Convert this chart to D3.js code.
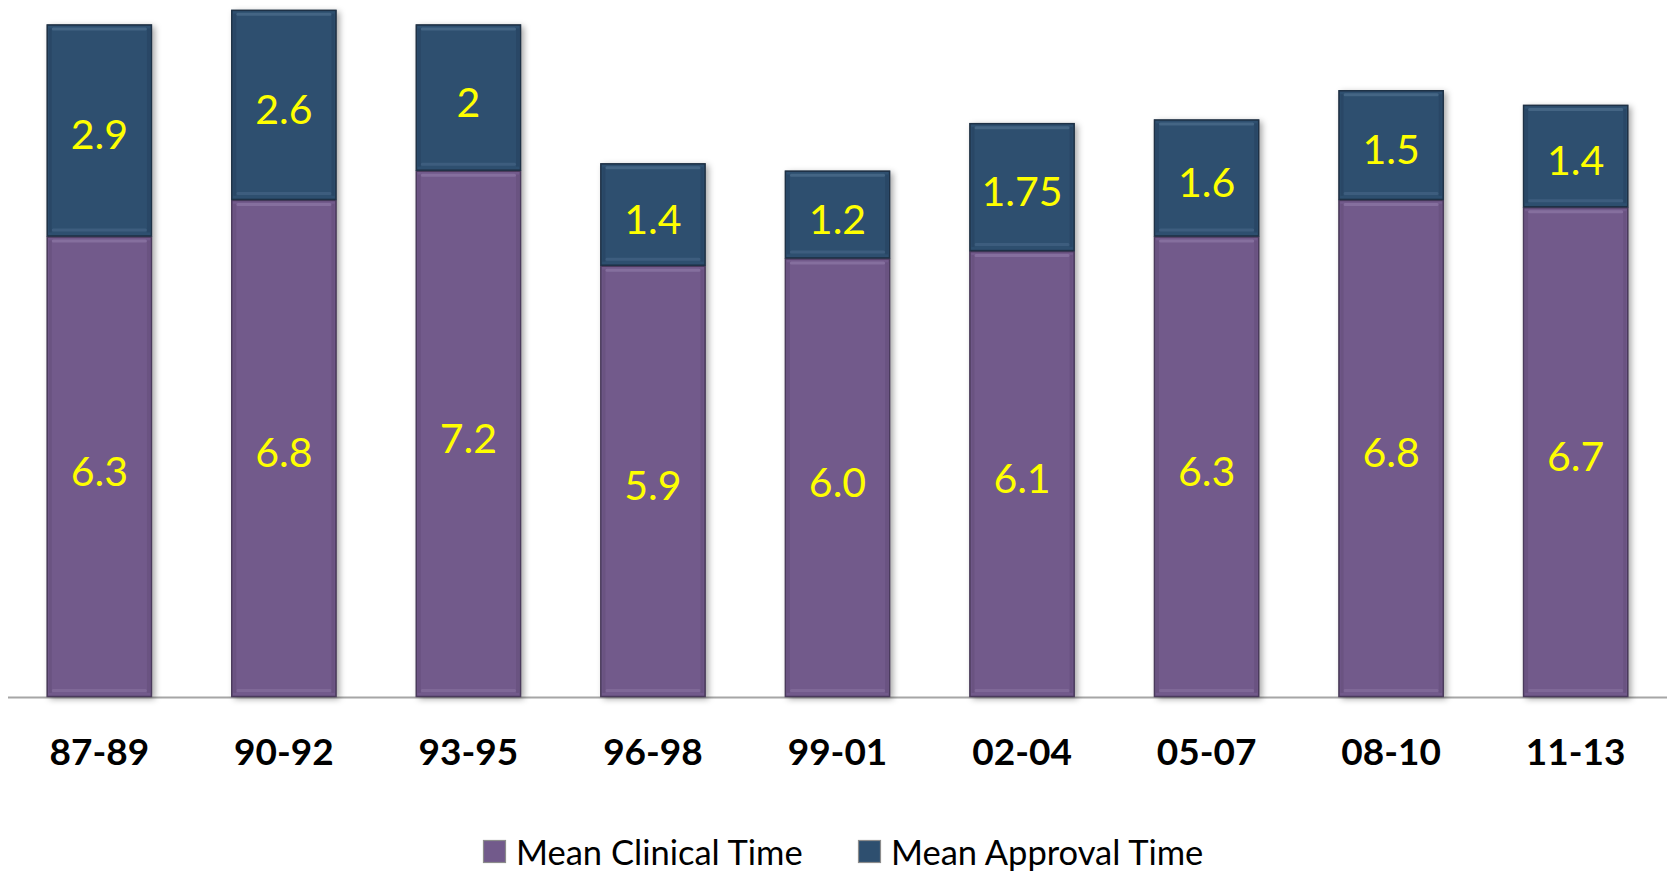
<!DOCTYPE html>
<html>
<head>
<meta charset="utf-8">
<script src="https://cdn.jsdelivr.net/npm/d3@7"></script>
<style>
  html, body { margin: 0; padding: 0; background: #ffffff; }
  svg { display: block; }
</style>
</head>
<body>
<svg id="chart" width="1667" height="871"></svg>
<script>
// Periods (years) and the two stacked components, in years
const periods = ["87-89", "90-92", "93-95", "96-98", "99-01", "02-04", "05-07", "08-10", "11-13"];
const clinicalTime = [6.3, 6.8, 7.2, 5.9, 6.0, 6.1, 6.3, 6.8, 6.7];
const approvalTime = [2.9, 2.6, 2, 1.4, 1.2, 1.75, 1.6, 1.5, 1.4];
const seriesNames = ["Mean Clinical Time", "Mean Approval Time"];

const W = 1667, H = 871;
const baseY = 697;

const colors = {
  clinical: { fill: "#725a8b", edge: "#4a3a5c", hi: "#8a74a3", lo: "#66507e" },
  approval: { fill: "#2e4f6f", edge: "#1e3146", hi: "#4a6a8a", lo: "#284562" }
};

const svg = d3.select("#chart");

const defs = svg.append("defs");
const shadow = defs.append("filter").attr("id", "barShadow")
  .attr("x", "-20%").attr("y", "-5%").attr("width", "150%").attr("height", "115%");
shadow.append("feDropShadow")
  .attr("dx", 3).attr("dy", 2).attr("stdDeviation", 3)
  .attr("flood-color", "#000").attr("flood-opacity", 0.35);

const x = d3.scaleBand()
  .domain(periods)
  .range([8, W])
  .paddingInner(0.43)
  .paddingOuter(0.21);

const y = d3.scaleLinear()
  .domain([0, 9.5])
  .range([baseY, baseY - 9.5 * 73.1]);

const rows = periods.map((p, i) => ({
  period: p,
  segments: [
    { key: "clinical", v0: 0, v1: clinicalTime[i], label: clinicalTime[i].toFixed(1) },
    { key: "approval", v0: clinicalTime[i], v1: clinicalTime[i] + approvalTime[i], label: String(approvalTime[i]) }
  ]
}));

// Axis baseline
svg.append("line")
  .attr("x1", 8).attr("x2", W)
  .attr("y1", baseY + 0.5).attr("y2", baseY + 0.5)
  .attr("stroke", "#a6a6a6").attr("stroke-width", 2);

const bars = svg.append("g").selectAll("g.bar")
  .data(rows).join("g")
  .attr("class", "bar")
  .attr("transform", d => `translate(${x(d.period)},0)`);

const bw = x.bandwidth();

// Whole-bar shadow
bars.append("rect")
  .attr("x", 0).attr("width", bw)
  .attr("y", d => y(d.segments[1].v1))
  .attr("height", d => y(0) - y(d.segments[1].v1))
  .attr("fill", "#666")
  .attr("filter", "url(#barShadow)");

const segs = bars.selectAll("g.seg")
  .data(d => d.segments).join("g").attr("class", "seg");

segs.append("rect")
  .attr("x", 0.5).attr("width", bw - 1)
  .attr("y", d => y(d.v1) + 0.5)
  .attr("height", d => y(d.v0) - y(d.v1) - 1)
  .attr("fill", d => colors[d.key].fill)
  .attr("stroke", d => colors[d.key].edge)
  .attr("stroke-width", 1.5);

// Soft bevel highlights near the top and bottom edges of each segment
segs.append("rect")
  .attr("x", 5).attr("width", bw - 10)
  .attr("y", d => y(d.v1) + 3)
  .attr("height", 3).attr("rx", 1.5)
  .attr("fill", d => colors[d.key].hi).attr("opacity", 0.8);
segs.append("rect")
  .attr("x", 5).attr("width", bw - 10)
  .attr("y", d => y(d.v0) - 8)
  .attr("height", 3).attr("rx", 1.5)
  .attr("fill", d => colors[d.key].hi).attr("opacity", 0.55);
segs.append("rect")
  .attr("x", 2).attr("width", 3)
  .attr("y", d => y(d.v1) + 4)
  .attr("height", d => Math.max(0, y(d.v0) - y(d.v1) - 8))
  .attr("fill", d => colors[d.key].lo).attr("opacity", 0.7);
segs.append("rect")
  .attr("x", bw - 5).attr("width", 3)
  .attr("y", d => y(d.v1) + 4)
  .attr("height", d => Math.max(0, y(d.v0) - y(d.v1) - 8))
  .attr("fill", d => colors[d.key].lo).attr("opacity", 0.7);

// Value labels
segs.append("text")
  .attr("x", bw / 2)
  .attr("y", d => (y(d.v0) + y(d.v1)) / 2 + 19)
  .attr("text-anchor", "middle")
  .attr("font-family", "Lato, 'Open Sans', sans-serif")
  .attr("font-size", 41)
  .attr("fill", "#ffff00")
  .text(d => d.label);

// Category axis labels
const xAxis = d3.axisBottom(x).tickSize(0).tickPadding(0);
const axisG = svg.append("g")
  .attr("transform", `translate(0,${baseY})`)
  .call(xAxis);
axisG.select(".domain").remove();
axisG.selectAll("text")
  .attr("y", 68)
  .attr("dy", 0)
  .attr("font-family", "Lato, 'Open Sans', sans-serif")
  .attr("font-weight", "bold")
  .attr("font-size", 37)
  .attr("fill", "#000");

// Legend
const legendItems = [
  { name: seriesNames[0], key: "clinical", sx: 483, tx: 516 },
  { name: seriesNames[1], key: "approval", sx: 858, tx: 891 }
];
const legend = svg.append("g").selectAll("g")
  .data(legendItems).join("g");
legend.append("rect")
  .attr("x", d => d.sx + 0.5).attr("y", 840.5)
  .attr("width", 22).attr("height", 22)
  .attr("fill", d => colors[d.key].fill)
  .attr("stroke", "#8c8c8c").attr("stroke-width", 1.2);
legend.append("text")
  .attr("x", d => d.tx).attr("y", 865)
  .attr("font-family", "Lato, 'Open Sans', sans-serif")
  .attr("font-size", 34.5)
  .attr("fill", "#000")
  .text(d => d.name);
</script>
</body>
</html>
